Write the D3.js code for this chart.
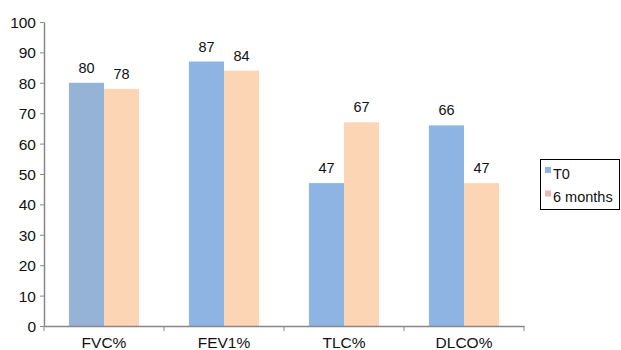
<!DOCTYPE html>
<html><head><meta charset="utf-8">
<script src="https://cdn.jsdelivr.net/npm/d3@7"></script>
<style>body{margin:0;background:#fff}svg{display:block}text{font-family:"Liberation Sans",Arial,sans-serif;fill:#111}</style>
</head><body>
<svg id="c" width="621" height="350"></svg>
<script>
const categories = ["FVC%", "FEV1%", "TLC%", "DLCO%"];
const seriesNames = ["T0", "6 months"];
const t0Values = [80, 87, 47, 66];
const sixMonthValues = [78, 84, 67, 47];
const yTicks = [0,10,20,30,40,50,60,70,80,90,100];

const svg = d3.select("#c");
const mLeft = 44, mRight = 524, mTop = 22, mBottom = 326;
const x = d3.scaleBand().domain(categories).range([mLeft, mRight]).paddingInner(0).paddingOuter(0);
const y = d3.scaleLinear().domain([0, 100]).range([mBottom, mTop]);
const inner = d3.scaleBand().domain(seriesNames).range([0, x.bandwidth()]).paddingOuter(0.71).paddingInner(0);

const barColors = {"T0": "#8DB4E2", "6 months": "#FCD5B5"};
const firstColor = "#95B3D7";
const legendColors = {"T0": "#8DB4E2", "6 months": "#E6B9B8"};

const data = categories.map((c,i)=>({cat:c, vals:[{s:"T0", v:t0Values[i]},{s:"6 months", v:sixMonthValues[i]}]}));

const g = svg.append("g");
data.forEach((d,ci)=>{
  d.vals.forEach(p=>{
    const bx = x(d.cat) + inner(p.s);
    g.append("rect").attr("x", bx).attr("y", y(p.v)).attr("width", inner.bandwidth()).attr("height", y(0)-y(p.v))
      .attr("fill", (ci===0 && p.s==="T0") ? firstColor : barColors[p.s]);
    g.append("text").attr("x", bx + inner.bandwidth()/2).attr("y", y(p.v) - 10)
      .attr("text-anchor","middle").attr("font-size", 14.5).text(p.v);
  });
});

// y axis
const ya = svg.append("g").attr("transform", `translate(${mLeft},0)`)
  .call(d3.axisLeft(y).tickValues(yTicks).tickSize(4).tickSizeOuter(0));
ya.select(".domain").attr("stroke", "#888").attr("stroke-width", 1.5);
ya.selectAll(".tick line").attr("stroke", "#888");
ya.selectAll(".tick text").attr("font-size", 15.5).attr("font-family", '"Liberation Sans",Arial,sans-serif').attr("fill","#111").attr("x", -8).attr("dy", "0.36em");

// x axis
const xa = svg.append("g").attr("transform", `translate(0,${mBottom})`)
  .call(d3.axisBottom(x).tickSize(0).tickSizeOuter(0));
xa.select(".domain").attr("stroke", "#888").attr("stroke-width", 1.5);
xa.selectAll(".tick text").attr("font-size", 15.5).attr("font-family", '"Liberation Sans",Arial,sans-serif').attr("fill","#111").attr("dy", 0).attr("y", 21.5);
// category separators
const seps = categories.map(c=>x(c)).concat([mRight]);
svg.append("g").selectAll("line").data(seps).join("line")
  .attr("x1", d=>d).attr("x2", d=>d).attr("y1", mBottom).attr("y2", mBottom+5)
  .attr("stroke", "#888");

// legend
const lg = svg.append("g").attr("transform", "translate(540,159)");
lg.append("rect").attr("x",0.5).attr("y",0.5).attr("width",79).attr("height",50).attr("fill","#fff").attr("stroke","#000");
seriesNames.forEach((s,i)=>{
  lg.append("rect").attr("x", 5).attr("y", 8 + i*23.5).attr("width", 6).attr("height", 6).attr("fill", legendColors[s]);
  lg.append("text").attr("x", 13).attr("y", 19.5 + i*23.5).attr("font-size", 14.5).text(s);
});
</script>
</body></html>
